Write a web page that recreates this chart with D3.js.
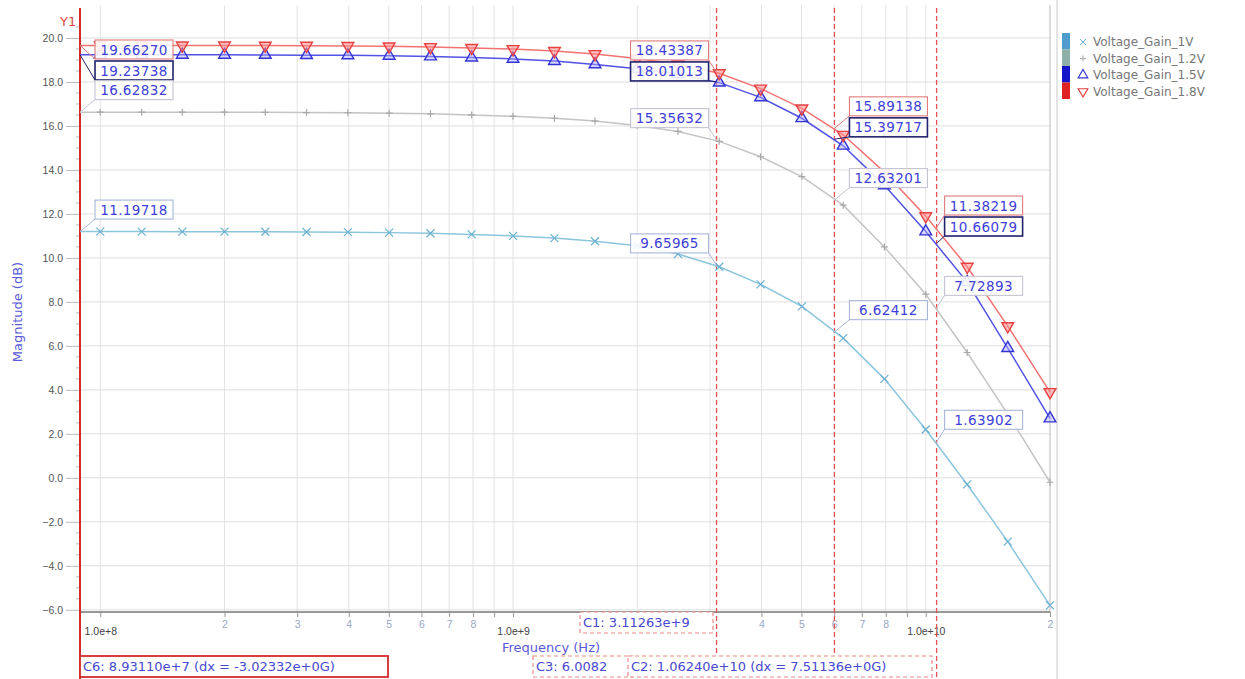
<!DOCTYPE html>
<html>
<head>
<meta charset="utf-8">
<script src="https://cdn.jsdelivr.net/npm/d3@7"></script>
<style>
  body { margin: 0; background: #fff; }
  svg { display: block; font-family: "DejaVu Sans", sans-serif; }
</style>
</head>
<body>
<svg id="chart" width="1245" height="679"></svg>
<script>
// sweep frequencies (Hz) and gain of each supply voltage (dB)
const freqs = [8.93e7, 1.0e8, 1.26e8, 1.58e8, 2.0e8, 2.51e8, 3.16e8, 3.98e8, 5.01e8, 6.31e8, 7.94e8,
  1.0e9, 1.26e9, 1.58e9, 2.0e9, 2.51e9, 3.16e9, 3.98e9, 5.01e9, 6.31e9, 7.94e9,
  1.0e10, 1.26e10, 1.58e10, 2.0e10];
const gain1V = [11.197, 11.197, 11.196, 11.195, 11.194, 11.19, 11.18, 11.17, 11.15, 11.12, 11.07,
  11.0, 10.9, 10.76, 10.55, 10.18, 9.6, 8.8, 7.8, 6.35, 4.5, 2.2, -0.3, -2.9, -5.8];
const gain1_2V = [16.628, 16.628, 16.627, 16.626, 16.625, 16.62, 16.61, 16.6, 16.58, 16.55, 16.5,
  16.44, 16.35, 16.22, 16.02, 15.75, 15.3, 14.6, 13.7, 12.4, 10.5, 8.35, 5.7, 2.9, -0.2];
const gain1_5V = [19.237, 19.237, 19.236, 19.235, 19.234, 19.23, 19.22, 19.21, 19.19, 19.16, 19.11,
  19.05, 18.95, 18.8, 18.6, 18.35, 17.97, 17.3, 16.35, 15.1, 13.3, 11.2, 8.9, 5.9, 2.7];
const gain1_8V = [19.663, 19.663, 19.662, 19.661, 19.66, 19.655, 19.65, 19.64, 19.62, 19.59, 19.55,
  19.5, 19.41, 19.27, 19.07, 18.8, 18.4, 17.7, 16.8, 15.6, 13.9, 11.9, 9.6, 6.9, 3.9];

const seriesNames = ["Voltage_Gain_1V", "Voltage_Gain_1.2V", "Voltage_Gain_1.5V", "Voltage_Gain_1.8V"];

// cursors and the values they read on each series (1V, 1.2V, 1.5V, 1.8V)
const cursorNames = ["C6", "C1", "C3", "C2"];
const cursorFreqs = [8.93110e7, 3.11263e9, 6.0082e9, 1.06240e10];
const cursorReadouts = [
  [11.19718, 16.62832, 19.23738, 19.66270],
  [9.65965, 15.35632, 18.01013, 18.43387],
  [6.62412, 12.63201, 15.39717, 15.89138],
  [1.63902, 7.72893, 10.66079, 11.38219]
];
const cursorTexts = [
  "C6: 8.93110e+7 (dx = -3.02332e+0G)",
  "C1: 3.11263e+9",
  "C3: 6.0082",
  "C2: 1.06240e+10 (dx = 7.51136e+0G)"
];

const yTicks = [-6, -4, -2, 0, 2, 4, 6, 8, 10, 12, 14, 16, 18, 20];

const margin = { top: 5, left: 80, right: 1050, bottom: 612 };
const svg = d3.select("#chart");

const x = d3.scaleLog().domain([8.93e7, 2.0e10]).range([margin.left, margin.right]);
const y = d3.scaleLinear().domain([-6.1, 21.5]).range([margin.bottom, margin.top]);

const styles = [
  { line: "#8cc6dc", mark: "#6ab0d0", swatch: "#4f9ccc", fill: "none", shape: "x" },
  { line: "#c4c4c4", mark: "#a8a8a8", swatch: "#8fb0a8", fill: "none", shape: "+" },
  { line: "#5252e6", mark: "#3434d4", swatch: "#1414c8", fill: "rgba(170,170,255,0.45)", shape: "up" },
  { line: "#f27272", mark: "#e84040", swatch: "#e02222", fill: "rgba(255,140,140,0.55)", shape: "down" }
];
const seriesValues = [gain1V, gain1_2V, gain1_5V, gain1_8V];

const xTicks = x.ticks().filter(d => d >= 1e8);
const mantissa = d => Math.round(d / Math.pow(10, Math.floor(Math.log10(d) + 1e-9)));
const isMajor = d => mantissa(d) === 1;

// grid
const grid = svg.append("g");
grid.selectAll("line.v").data(xTicks).join("line")
  .attr("x1", d => x(d)).attr("x2", d => x(d))
  .attr("y1", margin.top).attr("y2", margin.bottom)
  .attr("stroke", "#e4e4e4");
grid.selectAll("line.h").data(yTicks).join("line")
  .attr("x1", margin.left).attr("x2", margin.right)
  .attr("y1", d => y(d)).attr("y2", d => y(d))
  .attr("stroke", "#dedede");

// right frame and legend separator
svg.append("line").attr("x1", margin.right).attr("x2", margin.right)
  .attr("y1", margin.top).attr("y2", margin.bottom).attr("stroke", "#c8c8c8");
svg.append("line").attr("x1", 1057).attr("x2", 1057)
  .attr("y1", 0).attr("y2", 679).attr("stroke", "#c8c8c8");

// y axis
const yAxis = svg.append("g")
  .attr("transform", `translate(${margin.left},0)`)
  .call(d3.axisLeft(y).tickValues(yTicks).tickFormat(d3.format(".1f")).tickSize(14).tickPadding(3));
yAxis.select(".domain").remove();
yAxis.selectAll(".tick line").attr("stroke", "#bbb");
yAxis.selectAll(".tick text").attr("fill", "#555").style("font-size", "10.5px");
const yMinor = d3.range(-6, 21, 0.5).filter(v => v % 2 !== 0);
svg.append("g").selectAll("line").data(yMinor).join("line")
  .attr("x1", margin.left - 4).attr("x2", margin.left)
  .attr("y1", d => y(d)).attr("y2", d => y(d)).attr("stroke", "#bbb");

// x axis (minor digits 9 are hidden by the decade labels, 2 and 3 of the GHz decade by the C1 box)
const hiddenMinor = d => mantissa(d) === 9 || (d > 1.5e9 && d < 3.5e9);
const xAxis = svg.append("g")
  .attr("transform", `translate(0,${margin.bottom})`)
  .call(d3.axisBottom(x).tickValues(xTicks).tickSize(5).tickPadding(4)
    .tickFormat(d => isMajor(d) ? "1.0e+" + Math.round(Math.log10(d)) : (hiddenMinor(d) ? "" : String(mantissa(d)))));
xAxis.select(".domain").attr("stroke", "#333").attr("d", `M${margin.left},0H${margin.right}`);
xAxis.selectAll(".tick line").attr("stroke", "#999");
xAxis.selectAll(".tick text")
  .style("font-size", "10.5px")
  .attr("fill", d => isMajor(d) ? "#444" : "#9aa6c8")
  .attr("y", d => isMajor(d) ? 16 : 9);

svg.append("text").attr("x", 502).attr("y", 652)
  .attr("fill", "#5a5ad8").style("font-size", "13px").text("Frequency (Hz)");
svg.append("text").attr("transform", "translate(22,312) rotate(-90)")
  .attr("text-anchor", "middle").attr("fill", "#5a5ad8").style("font-size", "13px")
  .text("Magnitude (dB)");

// Y1 axis line
svg.append("line").attr("x1", margin.left).attr("x2", margin.left)
  .attr("y1", 8).attr("y2", 679).attr("stroke", "#d42a2a").attr("stroke-width", 2);
svg.append("text").attr("x", 60).attr("y", 26).attr("fill", "#e04848")
  .style("font-size", "13px").text("Y1");

// cursor lines
svg.append("g").selectAll("line").data(cursorFreqs.slice(1)).join("line")
  .attr("x1", d => x(d)).attr("x2", d => x(d))
  .attr("y1", 8).attr("y2", 679)
  .attr("stroke", "#e85050").attr("stroke-width", 1.3).attr("stroke-dasharray", "5,3");

// series lines and markers
const line = d3.line().x(d => x(d[0])).y(d => y(d[1]));
const tri = d3.symbol().type(d3.symbolTriangle).size(60);

seriesValues.forEach((vals, i) => {
  const st = styles[i];
  const pts = freqs.map((f, j) => [f, vals[j]]);
  svg.append("path").datum(pts).attr("d", line)
    .attr("fill", "none").attr("stroke", st.line).attr("stroke-width", 1.5);
  const g = svg.append("g").selectAll("g").data(pts.filter(p => p[0] >= 1e8)).join("g")
    .attr("transform", p => `translate(${x(p[0])},${y(p[1])})`);
  if (st.shape === "x") {
    g.append("path").attr("d", "M-4,-4L4,4M-4,4L4,-4").attr("stroke", st.mark).attr("stroke-width", 1.2);
  } else if (st.shape === "+") {
    g.append("path").attr("d", "M-3.5,0H3.5M0,-3.5V3.5").attr("stroke", st.mark).attr("stroke-width", 1.2);
  } else {
    g.append("path").attr("d", tri)
      .attr("transform", st.shape === "down" ? "rotate(180)" : null)
      .attr("fill", st.fill).attr("stroke", st.mark).attr("stroke-width", 1.4);
  }
});

// readout boxes at cursors
const boxBorder = ["#a8b6d8", "#c4c4d4", "#22226e", "#e07a7a"];
const boxW = 78, boxH = 19;
cursorFreqs.forEach((cf, ci) => {
  const cx = x(cf);
  const leftSide = ci === 1;
  const bx = leftSide ? cx - 8 - boxW : cx + (ci === 3 ? 8 : 15);
  let prevBottom = 38;
  // place from top value downwards: 1.8V, 1.5V, 1.2V, 1V
  [3, 2, 1, 0].forEach(si => {
    const v = cursorReadouts[ci][si];
    const py = y(v);
    let cy = py - 22;
    if (cy - boxH / 2 < prevBottom) cy = prevBottom + boxH / 2 + 2;
    prevBottom = cy + boxH / 2;
    const g = svg.append("g");
    const ex = leftSide ? bx + boxW : bx;
    g.append("line").attr("x1", ex).attr("y1", cy + boxH / 2)
      .attr("x2", cx).attr("y2", py).attr("stroke", boxBorder[si]).attr("stroke-width", 1);
    g.append("rect").attr("x", bx).attr("y", cy - boxH / 2).attr("width", boxW).attr("height", boxH)
      .attr("fill", "rgba(255,255,255,0.88)").attr("stroke", boxBorder[si])
      .attr("stroke-width", si === 2 ? 1.6 : 1.1);
    g.append("text").attr("x", bx + boxW / 2).attr("y", cy + 5).attr("text-anchor", "middle")
      .attr("fill", "#4040d8").style("font-size", "13.5px").style("letter-spacing", "0.4px")
      .text(v.toFixed(5));
  });
});

// cursor info boxes at the bottom
const infoBoxes = [
  { i: 0, x0: 80, y0: 656, w: 308, dash: null, stroke: "#d42a2a" },
  { i: 1, x0: 580, y0: 612, w: 133, dash: "4,3", stroke: "#e88a8a" },
  { i: 2, x0: 533, y0: 656, w: 100, dash: "4,3", stroke: "#e88a8a" },
  { i: 3, x0: 628, y0: 656, w: 304, dash: "4,3", stroke: "#e88a8a" }
];
infoBoxes.forEach(b => {
  svg.append("rect").attr("x", b.x0).attr("y", b.y0).attr("width", b.w).attr("height", 21)
    .attr("fill", "#fff").attr("stroke", b.stroke).attr("stroke-width", b.dash ? 1.2 : 1.8)
    .attr("stroke-dasharray", b.dash);
  svg.append("text").attr("x", b.x0 + 3).attr("y", b.y0 + 15)
    .attr("fill", "#4848d0").style("font-size", "13px").text(cursorTexts[b.i]);
});

// legend
const legend = svg.append("g").attr("transform", "translate(1062,33)");
seriesNames.forEach((name, i) => {
  const st = styles[i];
  const g = legend.append("g").attr("transform", `translate(0,${i * 16.5})`);
  g.append("rect").attr("x", 0).attr("y", 0).attr("width", 8).attr("height", 16.5).attr("fill", st.swatch);
  const m = g.append("g").attr("transform", "translate(21,9)");
  if (st.shape === "x") {
    m.append("path").attr("d", "M-3,-3L3,3M-3,3L3,-3").attr("stroke", st.mark);
  } else if (st.shape === "+") {
    m.append("path").attr("d", "M-3,0H3M0,-3V3").attr("stroke", st.mark);
  } else {
    m.append("path").attr("d", d3.symbol().type(d3.symbolTriangle).size(40))
      .attr("transform", st.shape === "down" ? "rotate(180)" : null)
      .attr("fill", "none").attr("stroke", st.mark).attr("stroke-width", 1.2);
  }
  g.append("text").attr("x", 31).attr("y", 13).attr("fill", "#777")
    .style("font-size", "12px").text(name);
});
</script>
</body>
</html>
